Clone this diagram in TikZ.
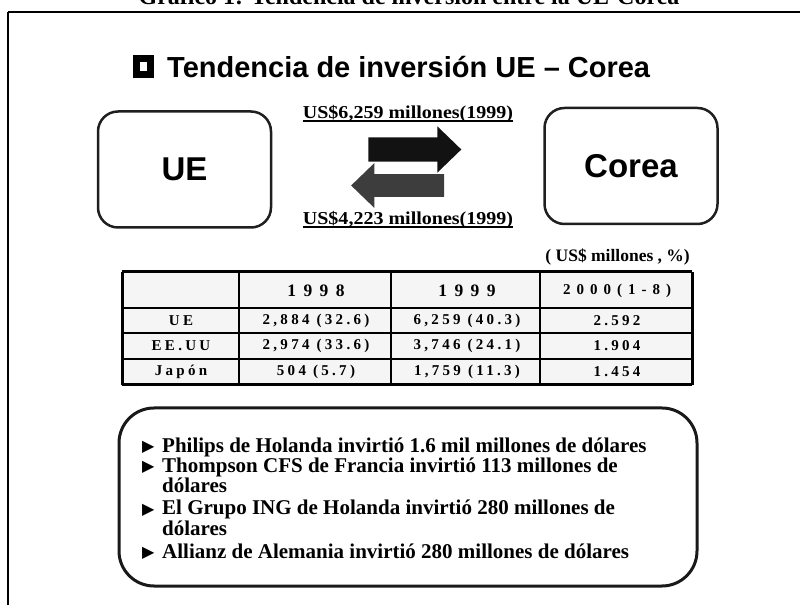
\documentclass[tikz,border=0pt]{standalone}
\usepackage{fontspec}
\setmainfont{Liberation Serif}
\newfontfamily\arialfont{Liberation Sans}
\newfontfamily\amountfont[FakeStretch=1.1]{Liberation Serif}
\newfontfamily\headfont[LetterSpace=42]{Liberation Serif}
\newfontfamily\yearfont[LetterSpace=40]{Liberation Serif}
\newfontfamily\cellfont[LetterSpace=22]{Liberation Serif}
\newfontfamily\symfont{DejaVu Sans}
\newcommand{\underrule}[1]{\vtop{\hbox{#1}\kern-2pt\hrule height 2pt}}
\usetikzlibrary{positioning,shapes.arrows}
\pgfdeclarelayer{edgelayer}
\pgfdeclarelayer{nodelayer}
\pgfsetlayers{edgelayer,nodelayer,main}
\tikzstyle{none}=[inner sep=0pt]
\tikzstyle{boxmark}=[rectangle,draw=black,fill=white,line width=7pt,minimum width=14pt,minimum height=16pt,inner sep=0pt]
\tikzstyle{region}=[rectangle,rounded corners=20pt,draw=black!88,line width=2.5pt,minimum width=173pt,minimum height=116pt,font=\arialfont\bfseries\fontsize{33}{33}\selectfont]
\tikzstyle{flowout}=[single arrow,fill=black!93,minimum height=93pt,minimum width=45pt,single arrow head extend=11pt,single arrow tip angle=88,single arrow head indent=0pt,inner xsep=0pt,inner ysep=12pt]
\tikzstyle{flowin}=[flowout,fill=black!76,shape border rotate=180,inner ysep=11pt]
\tikzstyle{amount}=[inner sep=0pt,anchor=base,font=\amountfont\bfseries\fontsize{18.2}{18.2}\selectfont]
\tikzstyle{unit}=[inner sep=0pt,anchor=base east,font=\bfseries\fontsize{17.5}{17.5}\selectfont]
\tikzstyle{yearcell}=[inner sep=0pt,font=\headfont\bfseries\fontsize{17.5}{17.5}\selectfont]
\tikzstyle{periodcell}=[inner sep=0pt,font=\yearfont\bfseries\fontsize{15}{15}\selectfont]
\tikzstyle{cell}=[inner sep=0pt,font=\cellfont\bfseries\fontsize{15}{15}\selectfont]
\tikzstyle{notebox}=[rectangle,rounded corners=35pt,draw=black!90,line width=3pt,minimum width=578pt,minimum height=178pt]
\tikzstyle{item}=[inner sep=0pt,anchor=base west,font=\bfseries\fontsize{21}{21}\selectfont]
\tikzstyle{bullet}=[inner sep=0pt,anchor=base west,font=\symfont\fontsize{16}{16}\selectfont]
\tikzstyle{outline}=[-,line width=2pt]
\tikzstyle{rule}=[-,line width=1.6pt]
\tikzstyle{tableedge}=[-,line width=3pt]
\tikzset{every picture/.style={line width=0.5pt}}

\begin{document}
\begin{tikzpicture}[x=10pt,y=10pt]
	\useasboundingbox (0,0) rectangle (80,60.5);
	\begin{pgfonlayer}{nodelayer}
		\node [style=none] (FTL) at (0.8,59.3) {};
		\node [style=none] (FTR) at (80.5,59.3) {};
		\node [style=none] (FBL) at (0.8,0) {};
		\node [anchor=base, inner sep=0pt, font=\bfseries\fontsize{24}{24}\selectfont] (caption) at (40.9,60.0) {Gráfico 1: Tendencia de inversión entre la UE-Corea};
		\node [style=boxmark] (sq) at (14.35,53.85) {};
		\node [anchor=base west, inner sep=0pt, font=\arialfont\bfseries\fontsize{29}{29}\selectfont] (title) at (16.7,52.7) {Tendencia de inversión UE – Corea};
		\node [style=region] (UE) at (18.45,43.55) {UE};
		\node [style=region] (KR) at (63.1,43.9) {Corea};
		\node [style=flowout] (toKR) at (40.85,45.55) {};
		\node [style=flowin] (toUE) at (40.35,41.95) {};
		\node [style=amount] (out) at (40.8,48.65) {\underrule{US\$6,259 millones(1999)}};
		\node [style=amount] (in) at (40.8,38.05) {\underrule{US\$4,223 millones(1999)}};
		\node [style=unit] (units) at (69.0,34.3) {( US\$ millones , \%)};
		% table frame
		\node [style=none] (TTL) at (12.2,33.3) {};
		\node [style=none] (TTR) at (69.2,33.3) {};
		\node [style=none] (TBR) at (69.2,22.0) {};
		\node [style=none] (TBL) at (12.2,22.0) {};
		\node [style=none] (C1t) at (23.9,33.3) {};
		\node [style=none] (C1b) at (23.9,22.0) {};
		\node [style=none] (C2t) at (39.1,33.3) {};
		\node [style=none] (C2b) at (39.1,22.0) {};
		\node [style=none] (C3t) at (54.0,33.3) {};
		\node [style=none] (C3b) at (54.0,22.0) {};
		\node [style=none] (R1l) at (12.2,29.7) {};
		\node [style=none] (R1r) at (69.2,29.7) {};
		\node [style=none] (R2l) at (12.2,27.2) {};
		\node [style=none] (R2r) at (69.2,27.2) {};
		\node [style=none] (R3l) at (12.2,24.6) {};
		\node [style=none] (R3r) at (69.2,24.6) {};
		% table cells
		\node [style=yearcell] (h98) at (31.6,31.4) {1998};
		\node [style=yearcell] (h99) at (46.7,31.4) {1999};
		\node [style=periodcell] (h00) at (61.7,31.4) {2000(1-8)};
		\node [style=cell] (rUE) at (18.1,28.45) {UE};
		\node [style=cell] (UE98) at (31.6,28.45) {2,884 (32.6)};
		\node [style=cell] (UE99) at (46.7,28.45) {6,259 (40.3)};
		\node [style=cell] (UE00) at (61.7,28.45) {2.592};
		\node [style=cell] (rUS) at (18.1,25.9) {EE.UU};
		\node [style=cell] (US98) at (31.6,25.9) {2,974 (33.6)};
		\node [style=cell] (US99) at (46.7,25.9) {3,746 (24.1)};
		\node [style=cell] (US00) at (61.7,25.9) {1.904};
		\node [style=cell] (rJP) at (18.1,23.3) {Japón};
		\node [style=cell] (JP98) at (31.6,23.3) {504 (5.7)};
		\node [style=cell] (JP99) at (46.7,23.3) {1,759 (11.3)};
		\node [style=cell] (JP00) at (61.7,23.3) {1.454};
		% investments
		\node [style=notebox] (notes) at (40.8,10.8) {};
		\node [style=bullet] (b1) at (14.2,15.3) {▶};
		\node [style=item] (philips) at (16.2,15.2) {Philips de Holanda invirtió 1.6 mil millones de dólares};
		\node [style=bullet] (b2) at (14.2,13.3) {▶};
		\node [style=item] (thompson) at (16.2,13.2) {Thompson CFS de Francia invirtió 113 millones de};
		\node [style=item] (thompson') at (16.2,11.2) {dólares};
		\node [style=bullet] (b3) at (14.2,9.1) {▶};
		\node [style=item] (ing) at (16.2,9.0) {El Grupo ING de Holanda invirtió 280 millones de};
		\node [style=item] (ing') at (16.2,7.0) {dólares};
		\node [style=bullet] (b4) at (14.2,4.8) {▶};
		\node [style=item] (allianz) at (16.2,4.7) {Allianz de Alemania invirtió 280 millones de dólares};
	\end{pgfonlayer}
	\begin{pgfonlayer}{edgelayer}
		\fill [black!4] (TTL.center) rectangle (TBR.center);
		\draw [style=outline] (FBL.center) to (FTL.center);
		\draw [style=outline] (FTL.center) to (FTR.center);
		\draw [style=rule] (C1t.center) to (C1b.center);
		\draw [style=rule] (C2t.center) to (C2b.center);
		\draw [style=rule] (C3t.center) to (C3b.center);
		\draw [style=rule] (R1l.center) to (R1r.center);
		\draw [style=rule] (R2l.center) to (R2r.center);
		\draw [style=rule] (R3l.center) to (R3r.center);
		\draw [style=tableedge] (TTL.center) to (TTR.center);
		\draw [style=tableedge] (TTR.center) to (TBR.center);
		\draw [style=tableedge] (TBR.center) to (TBL.center);
		\draw [style=tableedge] (TBL.center) to (TTL.center);
	\end{pgfonlayer}
\end{tikzpicture}
\end{document}
